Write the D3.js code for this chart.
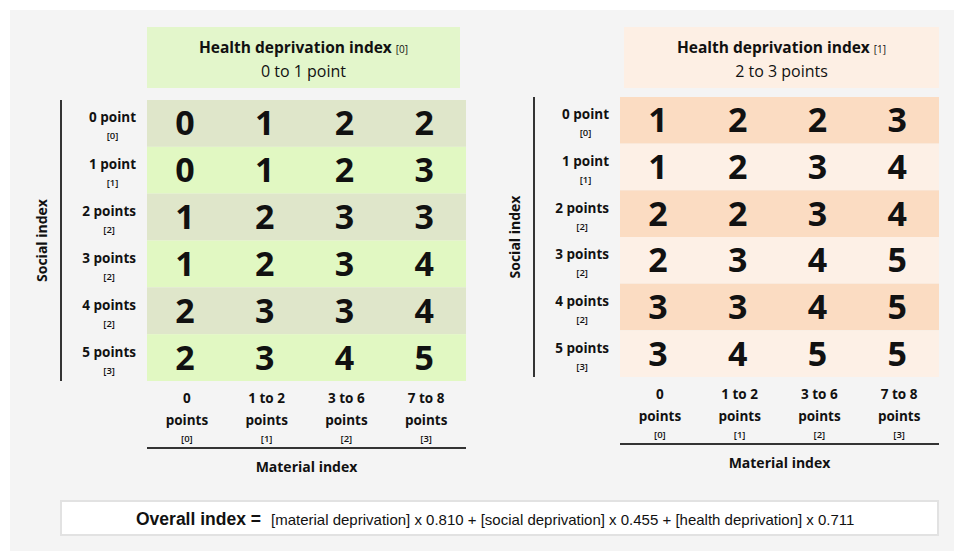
<!DOCTYPE html>
<html>
<head>
<meta charset="utf-8">
<script src="https://cdn.jsdelivr.net/npm/d3@7"></script>
<style>
  body { margin: 0; background: #fff; }
  text { font-family: "Open Sans", "Noto Sans", sans-serif; fill: #111; }
</style>
</head>
<body>
<div id="chart"></div>
<script>
// data
const healthTitles = ["Health deprivation index", "Health deprivation index"];
const healthCodes = ["[0]", "[1]"];
const healthRanges = ["0 to 1 point", "2 to 3 points"];
const socialLabels = ["0 point", "1 point", "2 points", "3 points", "4 points", "5 points"];
const socialCodes = ["[0]", "[1]", "[2]", "[2]", "[2]", "[3]"];
const materialLabels = ["0", "1 to 2", "3 to 6", "7 to 8"];
const materialCodes = ["[0]", "[1]", "[2]", "[3]"];
const gridHealth0 = [
  [0, 1, 2, 2],
  [0, 1, 2, 3],
  [1, 2, 3, 3],
  [1, 2, 3, 4],
  [2, 3, 3, 4],
  [2, 3, 4, 5]
];
const gridHealth1 = [
  [1, 2, 2, 3],
  [1, 2, 3, 4],
  [2, 2, 3, 4],
  [2, 3, 4, 5],
  [3, 3, 4, 5],
  [3, 4, 5, 5]
];
const weightNames = ["[material deprivation]", "[social deprivation]", "[health deprivation]"];
const weights = ["0.810", "0.455", "0.711"];

const W = 954, H = 551;
let svg = d3.select("#chart").append("svg")
    .attr("width", W)
    .attr("height", H);

svg.append("rect")
    .attr("x", 10).attr("y", 10)
    .attr("width", W - 10).attr("height", H - 10)
    .attr("fill", "#f4f4f4");

let panels = [
  { grid: gridHealth0, x0: 147, x1: 466, y0: 100, y1: 381, hx0: 147, hx1: 460,
    head: "#e3f6cb", even: "#dfe6ca", odd: "#e1f8c2" },
  { grid: gridHealth1, x0: 620, x1: 939, y0: 97, y1: 377, hx0: 624, hx1: 939,
    head: "#fdefe4", even: "#fbdcc2", odd: "#fdf0e6" }
];

panels.forEach(function(p, i) {
  let g = svg.append("g");
  let x = d3.scaleBand().domain(d3.range(materialLabels.length)).range([p.x0, p.x1]);
  let y = d3.scaleBand().domain(d3.range(socialLabels.length)).range([p.y0, p.y1]);

  // header
  g.append("rect")
      .attr("x", p.hx0).attr("y", 27)
      .attr("width", p.hx1 - p.hx0).attr("height", 61)
      .attr("fill", p.head);
  let hc = (p.hx0 + p.hx1) / 2;
  let t1 = g.append("text")
      .attr("x", hc).attr("y", 53)
      .attr("text-anchor", "middle");
  t1.append("tspan").attr("font-weight", "bold").attr("font-size", 15.5).text(healthTitles[i]);
  t1.append("tspan").attr("font-size", 10).attr("dx", 4).text(healthCodes[i]);
  g.append("text")
      .attr("x", hc).attr("y", 77)
      .attr("text-anchor", "middle")
      .attr("font-size", 16)
      .text(healthRanges[i]);

  // row bands
  g.selectAll(".row")
    .data(socialLabels)
    .enter().append("rect")
      .attr("x", p.x0)
      .attr("y", function(d, r) { return y(r); })
      .attr("width", p.x1 - p.x0)
      .attr("height", y.bandwidth())
      .attr("fill", function(d, r) { return r % 2 === 0 ? p.even : p.odd; });

  // cell values
  let cells = [];
  p.grid.forEach(function(row, r) {
    row.forEach(function(v, c) { cells.push({ r: r, c: c, v: v }); });
  });
  g.selectAll(".val")
    .data(cells)
    .enter().append("text")
      .attr("x", function(d) { return x(d.c) + x.bandwidth() / 2 - 2; })
      .attr("y", function(d) { return y(d.r) + y.bandwidth() / 2 + 12; })
      .attr("text-anchor", "middle")
      .attr("font-weight", "bold")
      .attr("font-size", 34)
      .text(function(d) { return d.v; });

  // social axis
  g.append("line")
      .attr("x1", p.x0 - 86).attr("x2", p.x0 - 86)
      .attr("y1", p.y0).attr("y2", p.y1)
      .attr("stroke", "#333").attr("stroke-width", 2);
  let widths = [];
  g.selectAll(".slab")
    .data(socialLabels)
    .enter().append("text")
      .attr("x", p.x0 - 11)
      .attr("y", function(d, r) { return y(r) + y.bandwidth() / 2 - 1; })
      .attr("text-anchor", "end")
      .attr("font-weight", "bold")
      .attr("font-size", 13.5)
      .text(function(d) { return d; })
      .each(function() { widths.push(this.getComputedTextLength()); });
  g.selectAll(".scode")
    .data(socialCodes)
    .enter().append("text")
      .attr("x", function(d, r) { return p.x0 - 11 - widths[r] / 2; })
      .attr("y", function(d, r) { return y(r) + y.bandwidth() / 2 + 16; })
      .attr("text-anchor", "middle")
      .attr("font-size", 9.5)
      .attr("font-weight", 600)
      .text(function(d) { return d; });
  g.append("text")
      .attr("transform", "translate(" + (p.x0 - 100) + "," + ((p.y0 + p.y1) / 2) + ") rotate(-90)")
      .attr("text-anchor", "middle")
      .attr("font-weight", "bold")
      .attr("font-size", 14)
      .text("Social index");

  // material axis
  g.selectAll(".mlab")
    .data(materialLabels)
    .enter().append("text")
      .attr("x", function(d, c) { return x(c) + x.bandwidth() / 2; })
      .attr("y", p.y1 + 22)
      .attr("text-anchor", "middle")
      .attr("font-weight", "bold")
      .attr("font-size", 13.5)
      .text(function(d) { return d; });
  g.selectAll(".mpts")
    .data(materialLabels)
    .enter().append("text")
      .attr("x", function(d, c) { return x(c) + x.bandwidth() / 2; })
      .attr("y", p.y1 + 44)
      .attr("text-anchor", "middle")
      .attr("font-weight", "bold")
      .attr("font-size", 13.5)
      .text("points");
  g.selectAll(".mcode")
    .data(materialCodes)
    .enter().append("text")
      .attr("x", function(d, c) { return x(c) + x.bandwidth() / 2; })
      .attr("y", p.y1 + 61)
      .attr("text-anchor", "middle")
      .attr("font-size", 9.5)
      .attr("font-weight", 600)
      .text(function(d) { return d; });
  g.append("line")
      .attr("x1", p.x0).attr("x2", p.x1)
      .attr("y1", p.y1 + 67).attr("y2", p.y1 + 67)
      .attr("stroke", "#333").attr("stroke-width", 2);
  g.append("text")
      .attr("x", (p.x0 + p.x1) / 2)
      .attr("y", p.y1 + 91)
      .attr("text-anchor", "middle")
      .attr("font-weight", "bold")
      .attr("font-size", 14)
      .text("Material index");
});

// formula box
svg.append("rect")
    .attr("x", 61).attr("y", 501)
    .attr("width", 877).attr("height", 34)
    .attr("fill", "#fff")
    .attr("stroke", "#e2e2e2").attr("stroke-width", 2);
let f = svg.append("text")
    .attr("x", 136).attr("y", 525)
    .style("font-family", "'Liberation Sans', Arial, sans-serif");
f.append("tspan").attr("font-weight", "bold").attr("font-size", 17.5).text("Overall index =");
weightNames.forEach(function(n, i) {
  f.append("tspan").attr("font-size", 15)
      .attr("dx", i === 0 ? 10 : 0)
      .text(n + " x " + weights[i] + (i < weightNames.length - 1 ? " + " : ""));
});
</script>
</body>
</html>
